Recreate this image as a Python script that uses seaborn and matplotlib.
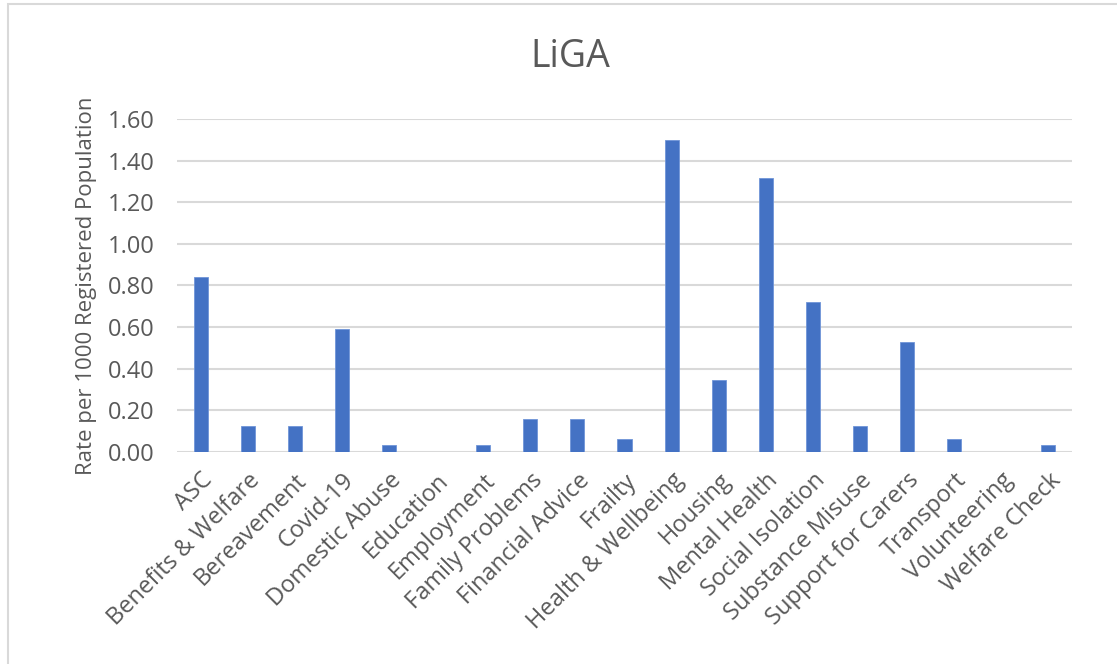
# Gráfico de barras "LiGA" - taxa por 1000 habitantes registrados
import seaborn as sns
import matplotlib.pyplot as plt
from matplotlib.patches import Rectangle

# dados
categories = ['ASC', 'Benefits & Welfare', 'Bereavement', 'Covid-19', 'Domestic Abuse',
              'Education', 'Employment', 'Family Problems', 'Financial Advice', 'Frailty',
              'Health & Wellbeing', 'Housing', 'Mental Health', 'Social Isolation',
              'Substance Misuse', 'Support for Carers', 'Transport', 'Volunteering',
              'Welfare Check']
rates = [0.84, 0.125, 0.125, 0.59, 0.03,
         0.0, 0.03, 0.155, 0.155, 0.06,
         1.50, 0.345, 1.315, 0.72,
         0.125, 0.53, 0.06, 0.0,
         0.03]
yticks = [0.0, 0.2, 0.4, 0.6, 0.8, 1.0, 1.2, 1.4, 1.6]

sns.set_theme(style='white')
plt.rcParams['font.family'] = ['Open Sans', 'DejaVu Sans']

fig = plt.figure(figsize=(11.17, 6.64), dpi=100)
ax = fig.add_axes([0.1585, 0.3197, 0.8012, 0.5011])

# moldura cinza clara em volta do gráfico (estilo Excel)
fig.patches.append(Rectangle((8 / 1117, -0.05), 1.2, 1.05 - 4 / 664, transform=fig.transFigure,
                             fill=False, edgecolor='#d9d9d9', linewidth=1.5))

sns.barplot(x=categories, y=rates, color='#4472C4', saturation=1, width=0.3, ax=ax,
            edgecolor='#6f95d8', linewidth=0.6)

ax.set_ylim(0, 1.6)
ax.set_yticks(yticks)
ax.set_yticklabels([f'{v:.2f}' for v in yticks], fontsize=17, color='#595959')
ax.set_xlim(-0.5, len(categories) - 0.5)
ax.yaxis.grid(True, color='#d9d9d9', linewidth=1.5)
ax.set_axisbelow(True)
for s in ax.spines.values():
    s.set_visible(False)
ax.tick_params(axis='y', length=0, pad=16)
ax.tick_params(axis='x', length=0, pad=12)

plt.setp(ax.get_xticklabels(), rotation=45, ha='right', rotation_mode='anchor',
         fontsize=17, color='#595959')

ax.set_ylabel('Rate per 1000 Registered Population', fontsize=16, color='#595959', labelpad=8)
ax.set_xlabel('')
# título centrado na área do gráfico, como no Excel
fig.text(570 / 1117, 1 - 57 / 664, 'LiGA', fontsize=27, color='#595959', ha='center', va='center')

fig.savefig('out.png', dpi=100)
